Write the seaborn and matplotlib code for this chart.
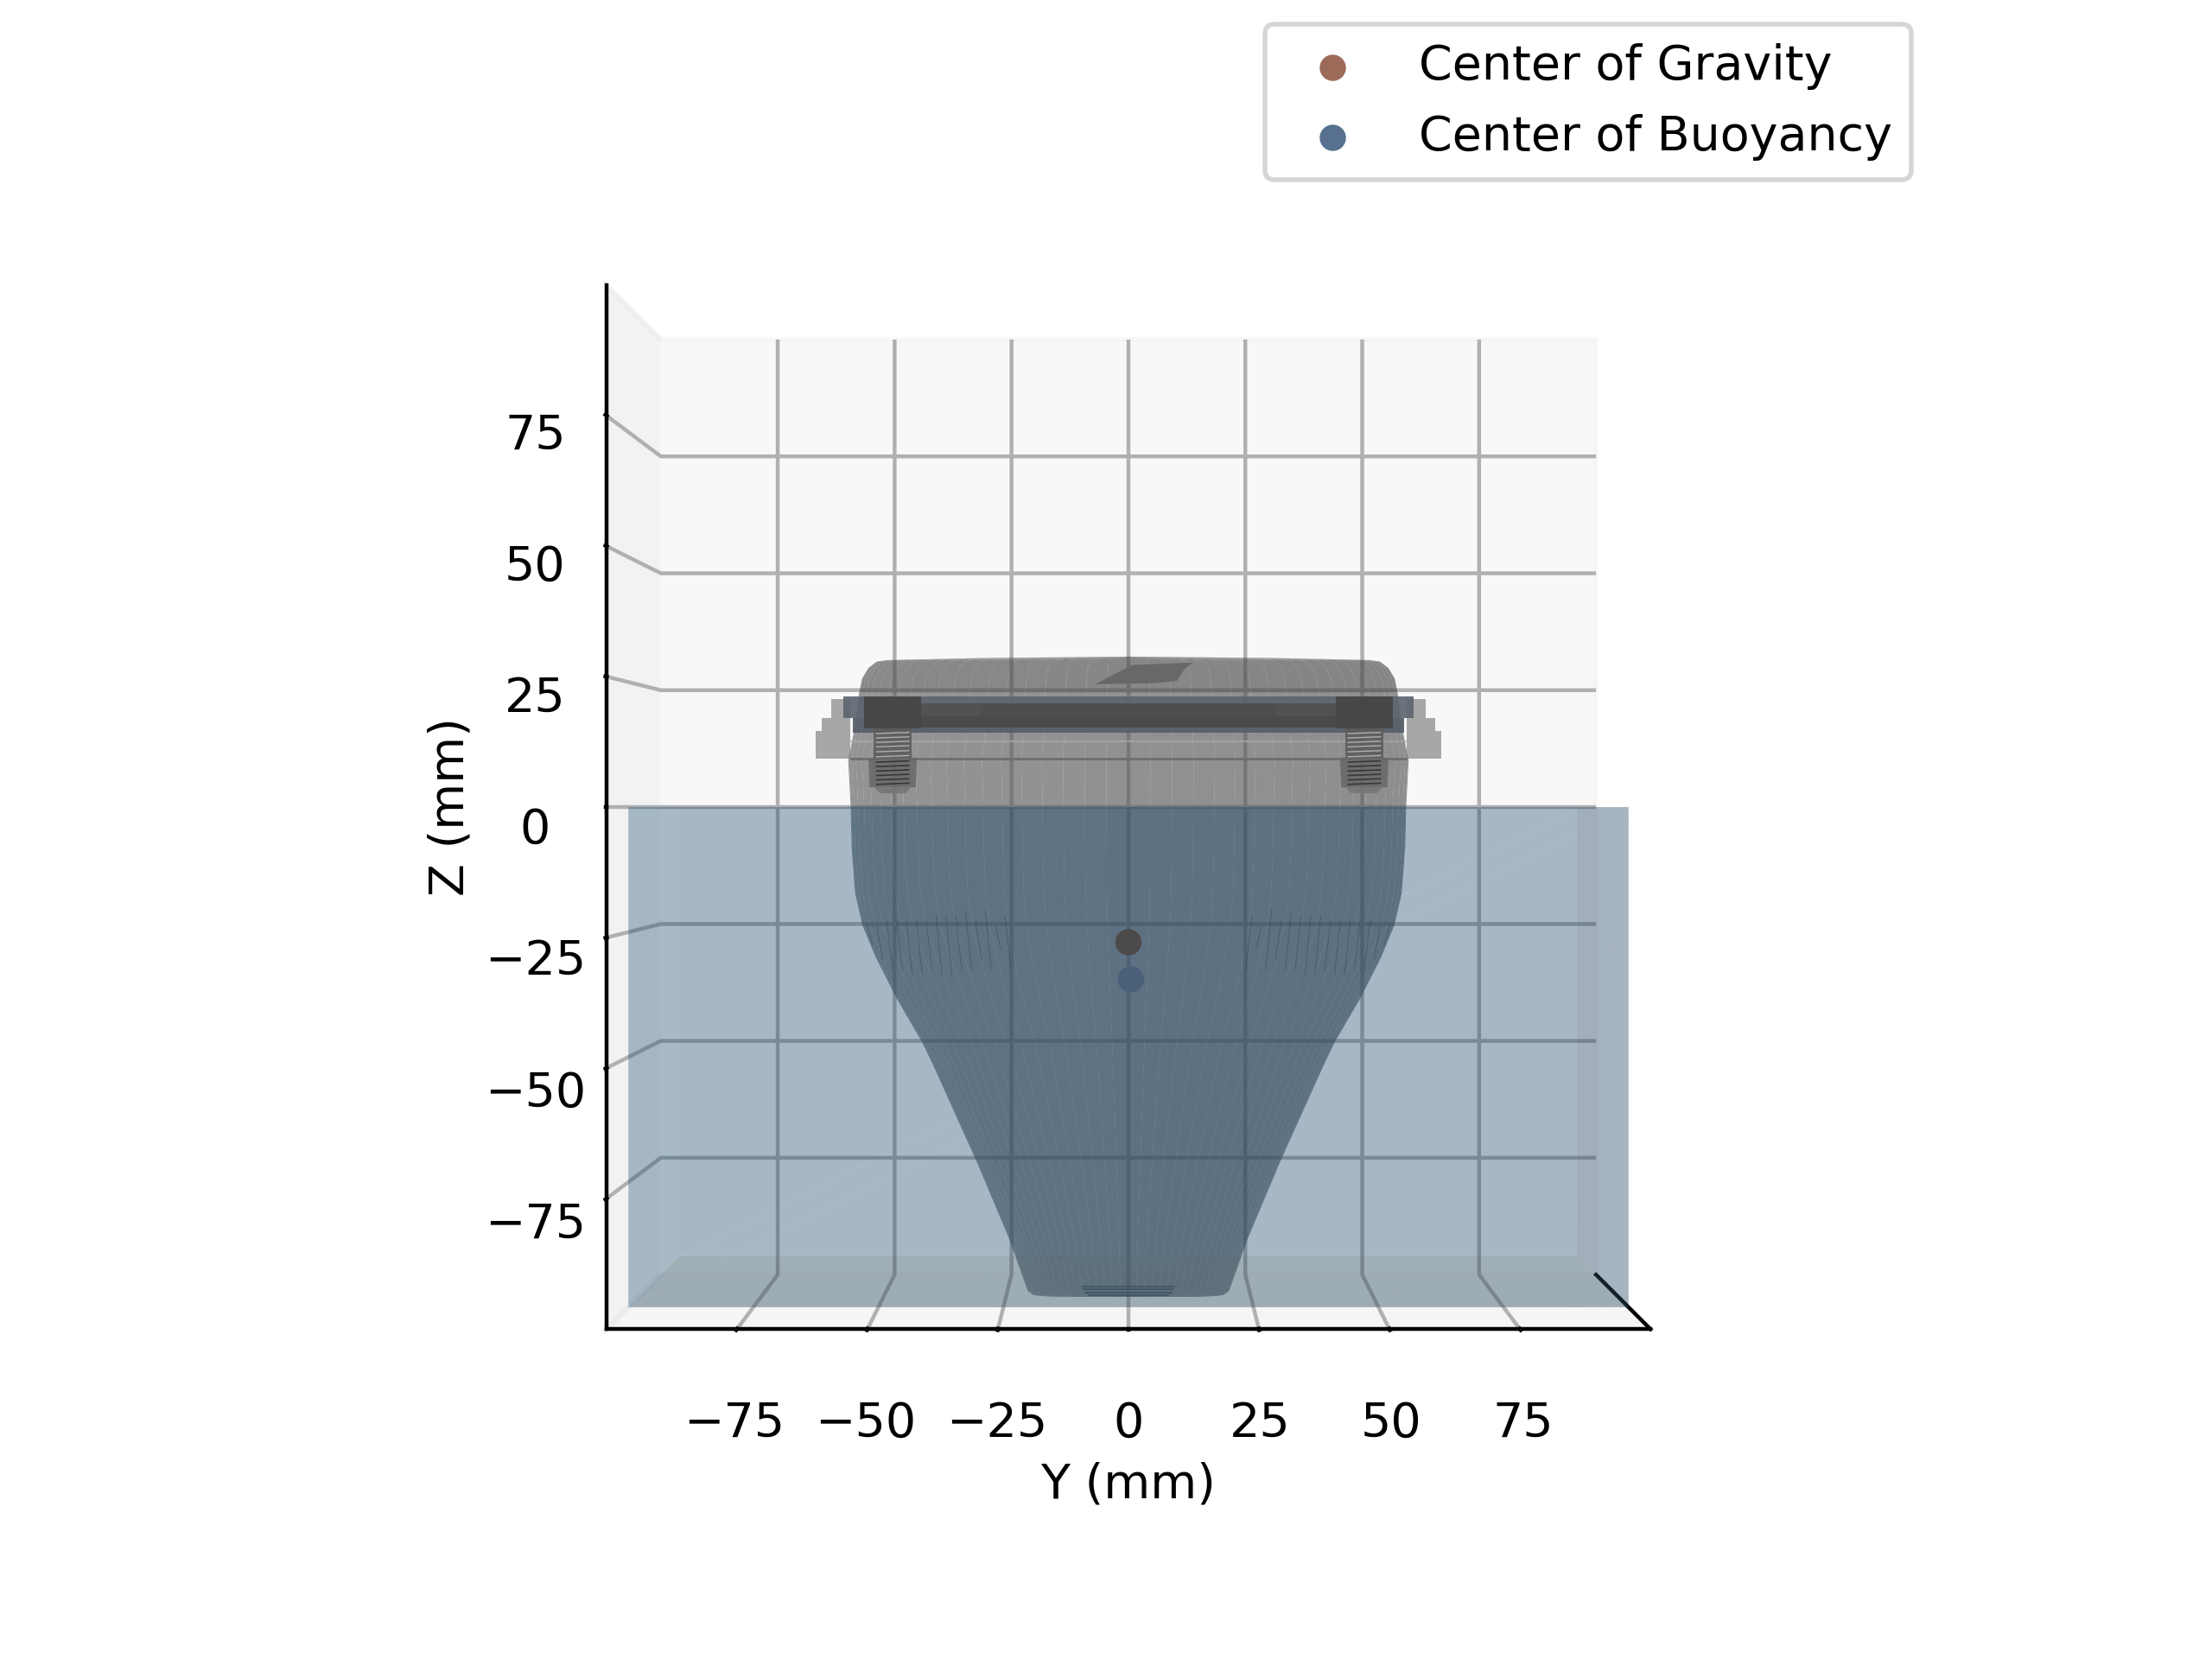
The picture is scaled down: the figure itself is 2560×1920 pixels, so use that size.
import numpy as np
import pandas as pd
import matplotlib
matplotlib.use("Agg")
import matplotlib.pyplot as plt
from mpl_toolkits.mplot3d.art3d import Poly3DCollection, Line3DCollection
import seaborn as sns

# ---- data (mm) ----
tick_vals = [-75, -50, -25, 0, 25, 50, 75]
point_names = ["Center of Gravity", "Center of Buoyancy"]
point_y = [0.0, 0.5]
point_z = [-27.4, -34.9]
legend_colors = ["#9b6a58", "#57708f"]
point_seen_colors = ["#4d4a4b", "#4a5f78"]

# hull outline: height and half width, split where the look of the surface changes
lower_z = [-99.3, -99.1, -98.9, -98.1, -87.7, -71.8, -52.5, -47.7, -38.6, -30.5, -24.0, -17.5, -8.2, 0.0]
lower_r = [14.0, 18.0, 19.3, 20.4, 24.1, 30.8, 39.5, 41.8, 47.1, 51.2, 53.9, 55.4, 56.1, 56.3]
upper_z = [0.0, 9.5, 16.0, 23.0]
upper_r = [56.3, 56.8, 55.5, 54.6]
lid_z = [23.0, 26.0, 28.2, 29.5, 29.8, 30.2, 30.5]
lid_r = [54.6, 54.0, 52.7, 51.0, 48.9, 30.0, 0.0]

water_half = 96.0
water_depth = -96.0

flange_z = [9.8, 15.4, 15.4, 18.1, 18.1, 21.9]
flange_r = [63.4, 63.4, 62.1, 62.1, 60.2, 60.2]
screw_y = 47.8
thread_upper = [10.2, 11.2, 12.2, 13.1, 14.0, 14.9]
thread_lower = [4.6, 5.5, 6.4, 7.3, 8.2, 9.1]
patch_y = [-6.8, 0.8, 13.1, 11.3, 9.9, 4.8]
patch_z = [24.9, 28.8, 29.3, 27.9, 25.6, 25.1]
foot_z = [-97.2, -97.8, -98.4, -98.9]
foot_half = [9.5, 9.3, 9.0, 8.2]
scratch_y = [53, 51, 49, 47, 45, 43, 41, 39, 37, 35, 33, 31, 29, 27, 25]
scratch_top = [-24, -24, -23, -23, -23, -23, -23, -22, -22, -22, -21, -23, -21, -24, -22]
scratch_bot = [-28, -31, -33, -33, -34, -34, -33, -34, -34, -33, -33, -31, -33, -29, -33]

palette = sns.color_palette(legend_colors)
points = pd.DataFrame({"name": point_names, "y": point_y, "z": point_z})

fig = plt.figure(figsize=(6.4, 4.8), dpi=400)
ax = fig.add_axes([0, 0, 1, 1], projection="3d", computed_zorder=False)
ax.patch.set_alpha(0)
ax.view_init(elev=0, azim=0)
ax.set_box_aspect((1, 1, 1))
ax.set_xlim(-100, 100)
ax.set_ylim(-100, 100)
ax.set_zlim(-100, 100)
ax.set_xticks([])
ax.set_yticks(tick_vals)
ax.set_zticks(tick_vals)
ax.set_ylabel("Y (mm)")
ax.set_zlabel("Z (mm)")


def rgb(r, g, b, a=1.0):
    return (r / 255, g / 255, b / 255, a)


def flat(ys, zs, color, zorder):
    """A polygon lying in the plane x = 0."""
    verts = [[(0.0, y, z) for y, z in zip(ys, zs)]]
    ax.add_collection3d(Poly3DCollection(verts, facecolors=[color], edgecolors="none",
                                         linewidths=0, zorder=zorder))


def mirrored(ys, zs, color, zorder):
    flat(list(ys), zs, color, zorder)
    flat([-v for v in ys], zs, color, zorder)


# hull surface as full-height strips, so that only the long mesh seams show
theta = np.linspace(-np.pi / 2, np.pi / 2, 41)


def hull_part(zs, rs, base):
    strips, colors = [], []
    n = len(zs)
    for j in range(len(theta) - 1):
        s0, s1 = np.sin(theta[j]), np.sin(theta[j + 1])
        strip = [(0, rs[i] * s0, zs[i]) for i in range(n)] + \
                [(0, rs[i] * s1, zs[i]) for i in range(n - 1, -1, -1)]
        strips.append(strip)
        shade = 1 - 0.09 * (0.5 + 0.5 * np.sin(0.5 * (theta[j] + theta[j + 1])))
        colors.append(rgb(base[0] * shade, base[1] * shade, base[2] * shade, 0.65))
    ax.add_collection3d(Poly3DCollection(strips, facecolors=colors, edgecolors="none",
                                         linewidths=0, zorder=1))


hull_part(lower_z, lower_r, (72, 84, 90))
hull_part(upper_z, upper_r, (94, 94, 94))
hull_part(lid_z, lid_r, (78, 78, 78))

# flange steps outside the hull
for k in range(0, len(flange_z), 2):
    inner = 56.4
    mirrored([inner, flange_r[k], flange_r[k + 1], inner],
             [flange_z[k], flange_z[k], flange_z[k + 1], flange_z[k + 1]],
             rgb(118, 118, 118, 0.62), 2)

# collar lines
collar_low = [[(0, -56.4, 9.8), (0, 56.4, 9.8)]]
collar_mid = [[(0, -56.4, 13.4), (0, 56.4, 13.4)]]
ax.add_collection3d(Line3DCollection(collar_low, colors=[rgb(110, 110, 110)], linewidths=0.5, zorder=2))
ax.add_collection3d(Line3DCollection(collar_mid, colors=[rgb(170, 170, 170, 0.7)], linewidths=0.4, zorder=2))

flat([-57.8, 57.8, 57.8, -57.8], [18.1, 18.1, 22.4, 22.4], rgb(92, 100, 110, 0.9), 3)
flat([-55.9, 55.9, 55.9, -55.9], [15.0, 15.0, 18.1, 18.1], rgb(88, 96, 106, 0.95), 3)
flat([-53.5, 53.5, 53.5, -53.5], [16.1, 16.1, 21.1, 21.1], rgb(82, 82, 82, 1.0), 4)
flat([-44.5, 44.5, 44.5, -44.5], [16.1, 16.1, 18.4, 18.4], rgb(74, 74, 74, 1.0), 4)
flat([-30, 30, 30, -30], [18.4, 18.4, 21.1, 21.1], rgb(78, 78, 78, 1.0), 4)

# screws
mirrored([screw_y - 5.8, screw_y + 5.8, screw_y + 5.8, screw_y - 5.8], [16.0, 16.0, 22.5, 22.5], rgb(70, 70, 70, 0.95), 5)
mirrored([screw_y - 3.9, screw_y + 3.9, screw_y + 3.9, screw_y - 3.9], [9.8, 9.8, 16.0, 16.0], rgb(92, 92, 92, 0.9), 5)
mirrored([screw_y - 4.9, screw_y + 4.9, screw_y + 4.7, screw_y - 4.7], [10.0, 10.0, 4.0, 4.0], rgb(104, 104, 104, 0.85), 5)
mirrored([screw_y - 3.7, screw_y + 3.7, screw_y + 2.6, screw_y - 2.6], [4.0, 4.0, 2.8, 2.8], rgb(118, 118, 118, 0.9), 5)
segs_light, segs_dark = [], []
for sign in (-1, 1):
    for z in thread_upper:
        segs_light.append([(0, sign * screw_y - 3.4, z), (0, sign * screw_y + 3.4, z + 0.25)])
    for z in thread_lower:
        segs_dark.append([(0, sign * screw_y - 3.4, z), (0, sign * screw_y + 3.4, z + 0.25)])
ax.add_collection3d(Line3DCollection(segs_light, colors=[rgb(175, 175, 175)], linewidths=0.25, zorder=6))
ax.add_collection3d(Line3DCollection(segs_dark, colors=[rgb(55, 55, 55)], linewidths=0.3, zorder=6))

# small patch on the lid
flat(patch_y, patch_z, rgb(104, 104, 104, 1.0), 4)

# thin scratches and base lines
scratches = []
for sign in (-1, 1):
    scratches += [[(0, sign * y, t), (0, sign * (y - 1.2), b)] for y, t, b in zip(scratch_y, scratch_top, scratch_bot)]
ax.add_collection3d(Line3DCollection(scratches, colors=[rgb(50, 60, 70, 0.5)], linewidths=0.15, zorder=2))
feet = [[(0, -h, z), (0, h, z)] for z, h in zip(foot_z, foot_half)]
ax.add_collection3d(Line3DCollection(feet, colors=[rgb(70, 85, 100)], linewidths=0.3, zorder=2))

# water volume: each face is two triangles
w, d = water_half, water_depth
faces = {
    "back": ([(-w, -w, d), (-w, w, d), (-w, w, 0), (-w, -w, 0)], rgb(10, 62, 108, 0.2), 10),
    "left": ([(-w, -w, d), (w, -w, d), (w, -w, 0), (-w, -w, 0)], rgb(10, 77, 120, 0.2), 11),
    "right": ([(-w, w, d), (w, w, d), (w, w, 0), (-w, w, 0)], rgb(30, 60, 88, 0.25), 11),
    "bottom": ([(-w, -w, d), (w, -w, d), (w, w, d), (-w, w, d)], rgb(57, 83, 95, 0.3), 12),
    "front": ([(w, -w, d), (w, w, d), (w, w, 0), (w, -w, 0)], rgb(42, 79, 110, 0.2), 13),
}
for q, color, zo in faces.values():
    tris = [[q[0], q[1], q[2]], [q[0], q[2], q[3]]]
    ax.add_collection3d(Poly3DCollection(tris, facecolors=[color], edgecolors="none", linewidths=0, zorder=zo))

# the two centres
ax.scatter(np.zeros(len(points)), points["y"], points["z"], c=point_seen_colors, s=30,
           depthshade=False, linewidths=0, zorder=20)

# legend entries in the undimmed colours of the points
handles = [ax.scatter([], [], [], color=palette[i], s=30, linewidths=0, depthshade=False, label=point_names[i])
           for i in range(2)]
fig.legend(handles=handles, loc="upper right", bbox_to_anchor=(2212 / 2560, 1892 / 1920), borderaxespad=0)

fig.savefig("out.png", dpi=400)
